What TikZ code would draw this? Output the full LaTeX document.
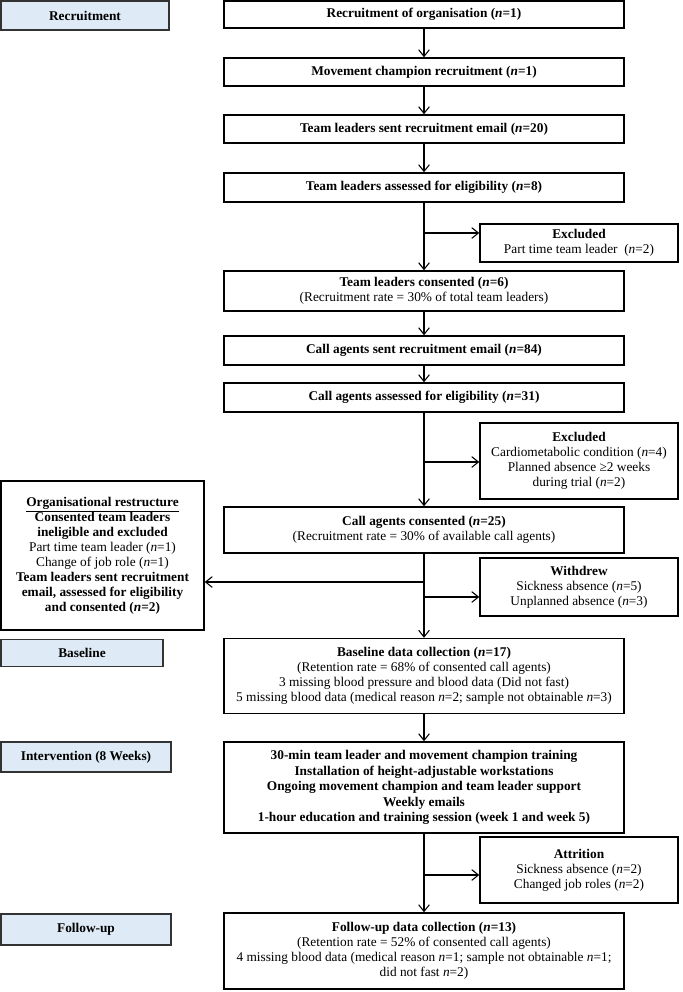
\documentclass[tikz,border=0pt]{standalone}
\usepackage{fontspec}
\setmainfont{Liberation Serif}
\usetikzlibrary{arrows.meta}
\definecolor{stageblue}{RGB}{222,234,246}

\begin{document}
\begin{tikzpicture}
[ x=0.75pt, y=-0.75pt, font=\fontsize{10}{11.25}\selectfont
, box/.style={rectangle, draw, line width=1.1pt, align=center, inner sep=2pt}
, main/.style={box, minimum width=300pt}
, side/.style={box, minimum width=148.5pt}
, stage/.style={box, draw=black!80, fill=stageblue, font=\fontsize{10}{11.25}\selectfont\bfseries}
, flow/.style={line width=0.8pt, -{Straight Barb[length=5pt,width=8pt]}}
]
\useasboundingbox (0,0) rectangle (682,992);
% Stages:
\node (stRec) [stage, minimum width=126pt, minimum height=21.75pt] at (85,15.5) {Recruitment};
\node (stBase) [stage, minimum width=121.5pt, minimum height=20.25pt] at (82,653) {Baseline};
\node (stInt) [stage, minimum width=127.5pt, minimum height=22.5pt] at (86,757) {Intervention (8 Weeks)};
\node (stFol) [stage, minimum width=127.5pt, minimum height=23.25pt] at (86,929.5) {Follow-up};
% Main column:
\node (rec) [main, minimum height=20.25pt] at (424,14.5) {\textbf{Recruitment of organisation (\textit{n}=1)}};
\node (champ) [main, minimum height=21pt] at (424,72) {\textbf{Movement champion recruitment (\textit{n}=1)}};
\node (tlemail) [main, minimum height=21pt] at (424,129) {\textbf{Team leaders sent recruitment email (\textit{n}=20)}};
\node (tlelig) [main, minimum height=21.75pt] at (424,187.5) {\textbf{Team leaders assessed for eligibility (\textit{n}=8)}};
\node (tlcons) [main, minimum height=30pt] at (424,291) {\textbf{Team leaders consented (\textit{n}=6)}\\(Recruitment rate = 30\% of total team leaders)};
\node (caemail) [main, minimum height=21.75pt] at (424,350.5) {\textbf{Call agents sent recruitment email (\textit{n}=84)}};
\node (caelig) [main, minimum height=21.75pt] at (424,397.5) {\textbf{Call agents assessed for eligibility (\textit{n}=31)}};
\node (cacons) [main, minimum height=34.5pt] at (424,530) {\textbf{Call agents consented (\textit{n}=25)}\\(Recruitment rate = 30\% of available call agents)};
\node (base) [main, minimum height=56.25pt] at (424,676) {\textbf{Baseline data collection (\textit{n}=17)}\\(Retention rate = 68\% of consented call agents)\\3 missing blood pressure and blood data (Did not fast)\\5 missing blood data (medical reason \textit{n}=2; sample not obtainable \textit{n}=3)};
\node (interv) [main, minimum height=68.25pt, font=\fontsize{10}{11.6}\selectfont\bfseries] at (424,787.5) {30-min team leader and movement champion training\\Installation of height-adjustable workstations\\Ongoing movement champion and team leader support\\Weekly emails\\1-hour education and training session (week 1 and week 5)};
\node (follow) [main, minimum height=57pt] at (424,951) {\textbf{Follow-up data collection (\textit{n}=13)}\\(Retention rate = 52\% of consented call agents)\\4 missing blood data (medical reason \textit{n}=1; sample not obtainable \textit{n}=1;\\did not fast \textit{n}=2)};
% Side boxes:
\node (excl1) [side, minimum height=28.5pt] at (579,243) {\textbf{Excluded}\\Part time team leader~ (\textit{n}=2)};
\node (excl2) [side, minimum height=57pt] at (579,461) {\textbf{Excluded}\\Cardiometabolic condition (\textit{n}=4)\\Planned absence ≥2 weeks\\during trial (\textit{n}=2)};
\node (withdrew) [side, minimum height=43.5pt] at (579,587) {\textbf{Withdrew}\\Sickness absence (\textit{n}=5)\\Unplanned absence (\textit{n}=3)};
\node (attr) [side, minimum height=49.5pt] at (579,870) {\textbf{Attrition}\\Sickness absence (\textit{n}=2)\\Changed job roles (\textit{n}=2)};
\node (org) [box, minimum width=152.25pt, minimum height=111.75pt] at (102.5,555.5) {\textbf{\underline{Organisational restructure}}\\\textbf{Consented team leaders}\\\textbf{ineligible and excluded}\\Part time team leader (\textit{n}=1)\\Change of job role (\textit{n}=1)\\\textbf{Team leaders sent recruitment}\\\textbf{email, assessed for eligibility}\\\textbf{and consented (\textit{n}=2)}};
% Junctions on the trunk:
\coordinate (j1) at (424,233);
\coordinate (j2) at (424,462);
\coordinate (j3) at (424,582);
\coordinate (j4) at (424,597);
\coordinate (j5) at (424,875);
\draw [flow] (rec) -- (champ);
\draw [flow] (champ) -- (tlemail);
\draw [flow] (tlemail) -- (tlelig);
\draw [flow] (tlelig) -- (tlcons);
\draw [flow] (tlcons) -- (caemail);
\draw [flow] (caemail) -- (caelig);
\draw [flow] (caelig) -- (cacons);
\draw [flow] (cacons) -- (base);
\draw [flow] (base) -- (interv);
\draw [flow] (interv) -- (follow);
\draw [flow] (j1) -- (excl1.west |- j1);
\draw [flow] (j2) -- (excl2.west |- j2);
\draw [flow] (j3) -- (org.east |- j3);
\draw [flow] (j4) -- (withdrew.west |- j4);
\draw [flow] (j5) -- (attr.west |- j5);
\end{tikzpicture}
\end{document}
